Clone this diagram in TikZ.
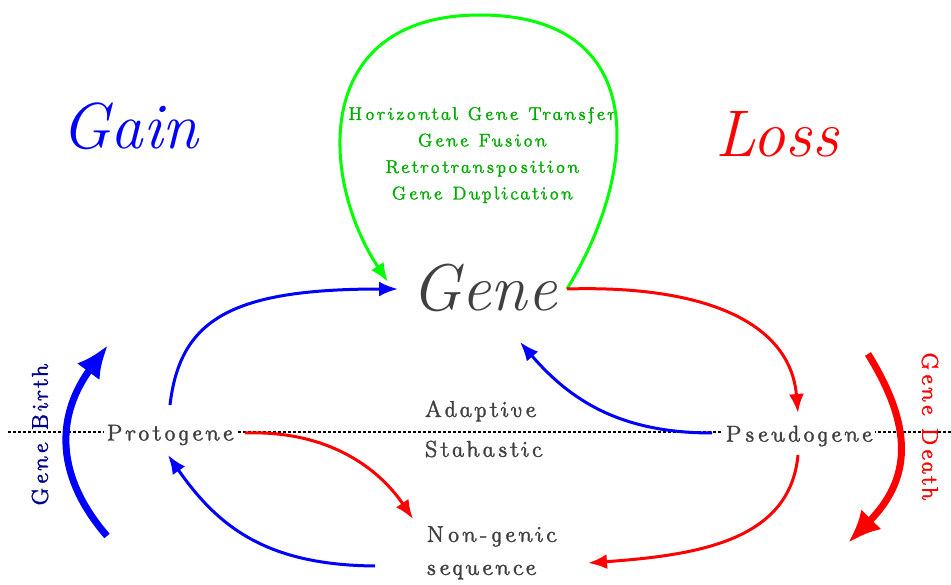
\documentclass[tikz,border=0pt]{standalone}
\usepackage{fontspec}
\usetikzlibrary{arrows.meta}
\newfontfamily\uifont[Extension=.otf,LetterSpace=11,FakeBold=1.2]{lmromanunsl10-regular}
\definecolor{txtgrey}{RGB}{64,64,64}
\definecolor{txtgreen}{RGB}{0,170,0}
\definecolor{navyb}{RGB}{0,0,140}
\begin{document}
\begin{tikzpicture}[x=1pt,y=-1pt,
  lbl/.style={font=\uifont\fontsize{23}{27}\selectfont, text=txtgrey, fill=white, inner sep=2pt},
  thin arrow/.style={line width=3pt, -{Latex[length=19pt,width=15pt]}},
  thick arrow/.style={line width=7pt, -{Latex[length=33pt,width=28pt]}}]
\useasboundingbox (0,0) rectangle (951,585);
\draw[line width=1.3pt, dash pattern=on 2.5pt off 2.5pt] (8,432) -- (951,432);
\node[font=\itshape\fontsize{65}{70}\selectfont, text=blue] (gain) at (130,126) {Gain};
\node[font=\itshape\fontsize{66}{70}\selectfont, text=red] (loss) at (777,134) {Loss};
\node[font=\itshape\fontsize{66}{70}\selectfont, text=txtgrey] (gene) at (484,288) {Gene};
\node[font=\uifont\fontsize{18.5}{26.5}\selectfont, text=txtgreen, align=center] (mech) at (482,155)
  {Horizontal Gene Transfer\\Gene Fusion\\Retrotransposition\\Gene Duplication};
\node[lbl] (proto) at (170,435) {Protogene};
\node[lbl] (pseudo) at (799,436) {Pseudogene};
\node[lbl, anchor=west] (adapt) at (422,411) {Adaptive};
\node[lbl, anchor=west, fill=none] (stah) at (422,449) {Stahastic};
\node[lbl, anchor=north west, align=left, font=\uifont\fontsize{23}{33}\selectfont] (nong) at (424,524) {Non-genic\\sequence};
\node[font=\uifont\fontsize{23}{27}\selectfont, text=navyb, rotate=90] (birth) at (40,435) {Gene Birth};
\node[font=\uifont\fontsize{23}{27}\selectfont, text=red, rotate=-90] (death) at (930,426) {Gene Death};
\coordinate (gR) at (567,289);
\coordinate (gL) at (388,282);
\coordinate (gLb) at (398,289);
\coordinate (gB) at (520,342);
\coordinate (pT) at (170,405);
\coordinate (pR) at (245,433);
\coordinate (pB) at (168,455);
\coordinate (sL) at (712,433);
\coordinate (sT) at (798,413);
\coordinate (sB) at (798,455);
\coordinate (nL) at (375,566);
\coordinate (nT) at (413,519);
\coordinate (nR) at (588,563);
\coordinate (b1) at (107,536);
\coordinate (b2) at (108,345);
\coordinate (d1) at (868,354);
\coordinate (d2) at (848,543);
\draw[green, thin arrow] (gR) .. controls (640,170) and (650,15) .. (480,15)
      .. controls (310,15) and (320,180) .. (gL);
\draw[blue, thin arrow] (pT) .. controls (180,320) and (230,289) .. (gLb);
\draw[red, thin arrow] (gR) .. controls (700,285) and (790,320) .. (sT);
\draw[blue, thin arrow] (sL) .. controls (620,433) and (570,400) .. (gB);
\draw[red, thin arrow] (sB) .. controls (790,540) and (700,555) .. (nR);
\draw[blue, thin arrow] (nL) .. controls (270,565) and (220,530) .. (pB);
\draw[red, thin arrow] (pR) .. controls (330,430) and (380,470) .. (nT);
\draw[blue, thick arrow] (b1) .. controls (50,470) and (60,410) .. (b2);
\draw[red, thick arrow] (d1) .. controls (915,430) and (910,480) .. (d2);
\end{tikzpicture}
\end{document}
